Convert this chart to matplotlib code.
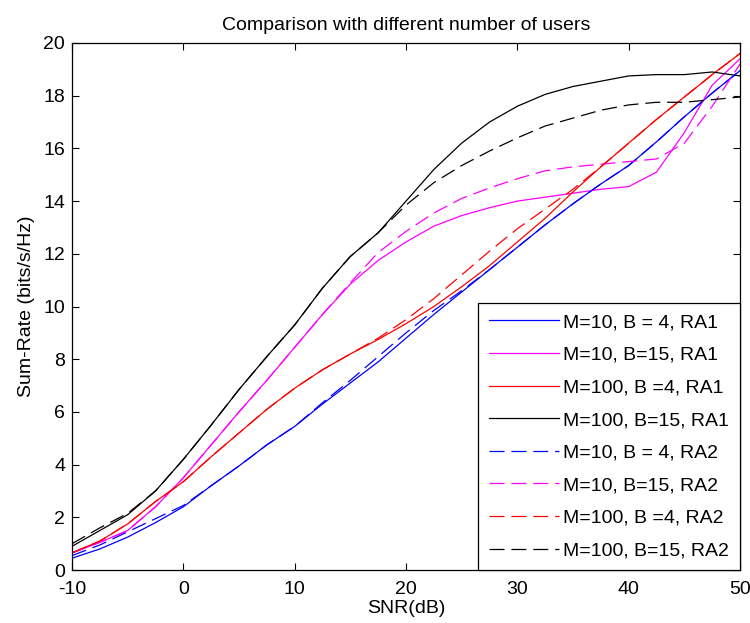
import matplotlib
matplotlib.use('Agg')
import matplotlib.pyplot as plt
import numpy as np

plt.rcParams['font.family'] = ['Liberation Sans', 'DejaVu Sans']
plt.rcParams['axes.unicode_minus'] = False

snr = [-10, -7.5, -5, -2.5, 0, 2.5, 5, 7.5, 10, 12.5, 15, 17.5, 20,
       22.5, 25, 27.5, 30, 32.5, 35, 37.5, 40, 42.5, 45, 47.5, 50]

# RA1 curves
m10_b4_ra1 = [0.45, 0.8, 1.25, 1.8, 2.4, 3.2, 3.95, 4.75, 5.45, 6.3, 7.1, 7.9, 8.8,
              9.7, 10.55, 11.4, 12.25, 13.1, 13.9, 14.65, 15.35, 16.25, 17.2, 18.1, 18.95]
m10_b15_ra1 = [0.65, 1.05, 1.5, 2.4, 3.5, 4.75, 6.0, 7.2, 8.45, 9.7, 10.85, 11.75, 12.45,
               13.05, 13.45, 13.75, 14.0, 14.15, 14.3, 14.45, 14.55, 15.1, 16.6, 18.4, 19.4]
m100_b4_ra1 = [0.65, 1.1, 1.75, 2.6, 3.35, 4.3, 5.2, 6.1, 6.9, 7.6, 8.2, 8.75, 9.35,
               10.0, 10.75, 11.55, 12.45, 13.35, 14.35, 15.3, 16.2, 17.1, 17.95, 18.8, 19.6]
m100_b15_ra1 = [0.9, 1.5, 2.1, 3.0, 4.2, 5.5, 6.85, 8.1, 9.3, 10.7, 11.9, 12.8, 14.0,
                15.2, 16.2, 17.0, 17.6, 18.05, 18.35, 18.55, 18.75, 18.8, 18.8, 18.9, 18.75]

# RA2 curves
m10_b4_ra2 = [0.55, 0.95, 1.45, 1.95, 2.45, 3.2, 3.95, 4.75, 5.45, 6.35, 7.2, 8.1, 9.0,
              9.85, 10.6, 11.4, 12.25, 13.1, 13.9, 14.65, 15.35, 16.25, 17.2, 18.1, 18.95]
m10_b15_ra2 = [0.65, 1.05, 1.5, 2.4, 3.5, 4.75, 6.0, 7.2, 8.45, 9.7, 10.9, 12.05, 12.85,
               13.55, 14.1, 14.5, 14.85, 15.15, 15.3, 15.4, 15.5, 15.6, 16.2, 17.6, 19.2]
m100_b4_ra2 = [0.65, 1.1, 1.75, 2.6, 3.35, 4.3, 5.2, 6.1, 6.9, 7.6, 8.2, 8.8, 9.5,
               10.3, 11.2, 12.1, 12.95, 13.7, 14.45, 15.3, 16.2, 17.1, 17.95, 18.8, 19.6]
m100_b15_ra2 = [1.0, 1.6, 2.15, 3.0, 4.2, 5.5, 6.85, 8.1, 9.3, 10.7, 11.9, 12.8, 13.85,
                14.7, 15.35, 15.9, 16.4, 16.85, 17.15, 17.45, 17.65, 17.75, 17.75, 17.85, 17.95]

labels = ['M=10, B = 4, RA1', 'M=10, B=15, RA1', 'M=100, B =4, RA1', 'M=100, B=15, RA1',
          'M=10, B = 4, RA2', 'M=10, B=15, RA2', 'M=100, B =4, RA2', 'M=100, B=15, RA2']
series = [m10_b4_ra1, m10_b15_ra1, m100_b4_ra1, m100_b15_ra1,
          m10_b4_ra2, m10_b15_ra2, m100_b4_ra2, m100_b15_ra2]
colors = ['#0000ff', '#ff00ff', '#ff0000', '#000000'] * 2

fig = plt.figure(figsize=(7.5, 6.23), dpi=100)
ax = fig.add_axes([0.096, 0.085, 0.8907, 0.846])

for i, (ys, lab, c) in enumerate(zip(series, labels, colors)):
    if i < 4:
        ax.plot(snr, ys, color=c, linewidth=0.9, label=lab)
    else:
        ax.plot(snr, ys, color=c, linewidth=0.9, linestyle='--', dashes=(12, 5.5), label=lab)

ax.set_xlim(-10, 50)
ax.set_ylim(0, 20)
ax.set_xticks(np.arange(-10, 51, 10))
ax.set_yticks(np.arange(0, 21, 2))
ax.tick_params(direction='in', length=5, width=0.8, top=True, right=True,
               labelsize=14, colors='black')
ax.tick_params(axis='x', pad=8)
ax.tick_params(axis='y', pad=5)
for s in ax.spines.values():
    s.set_linewidth(0.9)

ax.set_title('Comparison with different number of users', fontsize=14, pad=9)
ax.set_xlabel('SNR(dB)', fontsize=14, labelpad=1)
ax.set_ylabel('Sum-Rate (bits/s/Hz)', fontsize=14, labelpad=6)

leg = ax.legend(loc='lower right', bbox_to_anchor=(1, 0), borderaxespad=0,
                fontsize=14, fancybox=False, framealpha=1, edgecolor='black',
                handlelength=3.6, handletextpad=0.25, labelspacing=0.77,
                borderpad=0.55)
leg.get_frame().set_linewidth(0.9)

fig.savefig('out.png', dpi=100)
